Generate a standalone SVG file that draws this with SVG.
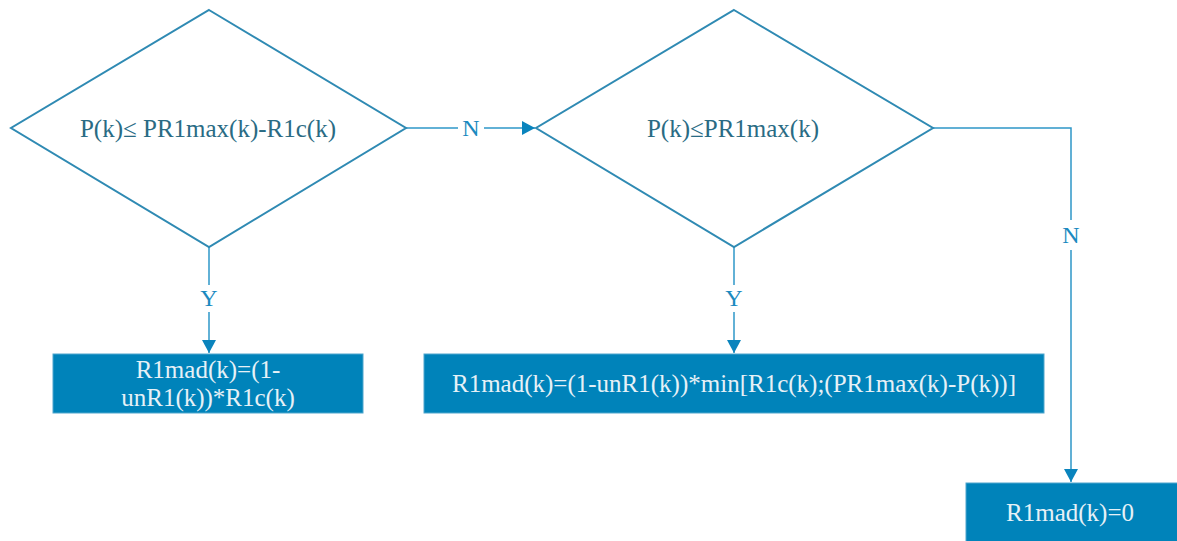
<svg xmlns="http://www.w3.org/2000/svg" width="1177" height="541" viewBox="0 0 1177 541">
<style>
.dia{fill:#fff;stroke:#2f8ab3;stroke-width:2}
.dt{font-family:"Liberation Serif",serif;font-size:25px;fill:#2a6b84;text-anchor:middle;dominant-baseline:central}
.box{fill:#0083ba;stroke:#4fa6cd;stroke-width:1}
.bt{font-family:"Liberation Serif",serif;font-size:25px;fill:#e6f1f7;text-anchor:middle;dominant-baseline:central}
.con{fill:none;stroke:#2e97c8;stroke-width:1.5}
.lbl{font-family:"Liberation Serif",serif;font-size:24px;fill:#1b8ac0;text-anchor:middle;dominant-baseline:central}
.lb{fill:#fff}
</style>
<defs>
<marker id="ah" markerWidth="14" markerHeight="14" viewBox="0 0 14 14" refX="13" refY="7" orient="auto" markerUnits="userSpaceOnUse">
<path d="M0,0 L13,7 L0,14 Z" fill="#0a84bd"/>
</marker>
</defs>
<g id="connectors">
<path class="con" d="M406,128 H535" marker-end="url(#ah)"/>
<path class="con" d="M209,247 V353" marker-end="url(#ah)"/>
<path class="con" d="M734,247 V353" marker-end="url(#ah)"/>
<path class="con" d="M933,128 H1071 V482" marker-end="url(#ah)"/>
<rect class="lb" x="458" y="116" width="26" height="24"/>
<text class="lbl" x="471" y="128">N</text>
<rect class="lb" x="196" y="285" width="26" height="27"/>
<text class="lbl" x="209" y="298">Y</text>
<rect class="lb" x="721" y="285" width="26" height="27"/>
<text class="lbl" x="734" y="298">Y</text>
<rect class="lb" x="1058" y="220" width="26" height="30"/>
<text class="lbl" x="1071" y="235">N</text>
</g>
<g id="d1">
<polygon class="dia" points="209,10 406,128 209,247 11,128"/>
<text class="dt" x="208" y="128">P(k)≤ PR1max(k)-R1c(k)</text>
</g>
<g id="d2">
<polygon class="dia" points="734,10 933,128 734,247 536,128"/>
<text class="dt" x="733" y="128">P(k)≤PR1max(k)</text>
</g>
<g id="b1">
<rect class="box" x="53" y="354" width="310" height="59"/>
<text class="bt" x="208" y="369">R1mad(k)=(1-</text>
<text class="bt" x="208" y="397">unR1(k))*R1c(k)</text>
</g>
<g id="b2">
<rect class="box" x="424" y="354" width="620" height="59"/>
<text class="bt" x="734" y="383">R1mad(k)=(1-unR1(k))*min[R1c(k);(PR1max(k)-P(k))]</text>
</g>
<g id="b3">
<rect class="box" x="966" y="483" width="215" height="62"/>
<text class="bt" x="1070" y="512">R1mad(k)=0</text>
</g>
</svg>
